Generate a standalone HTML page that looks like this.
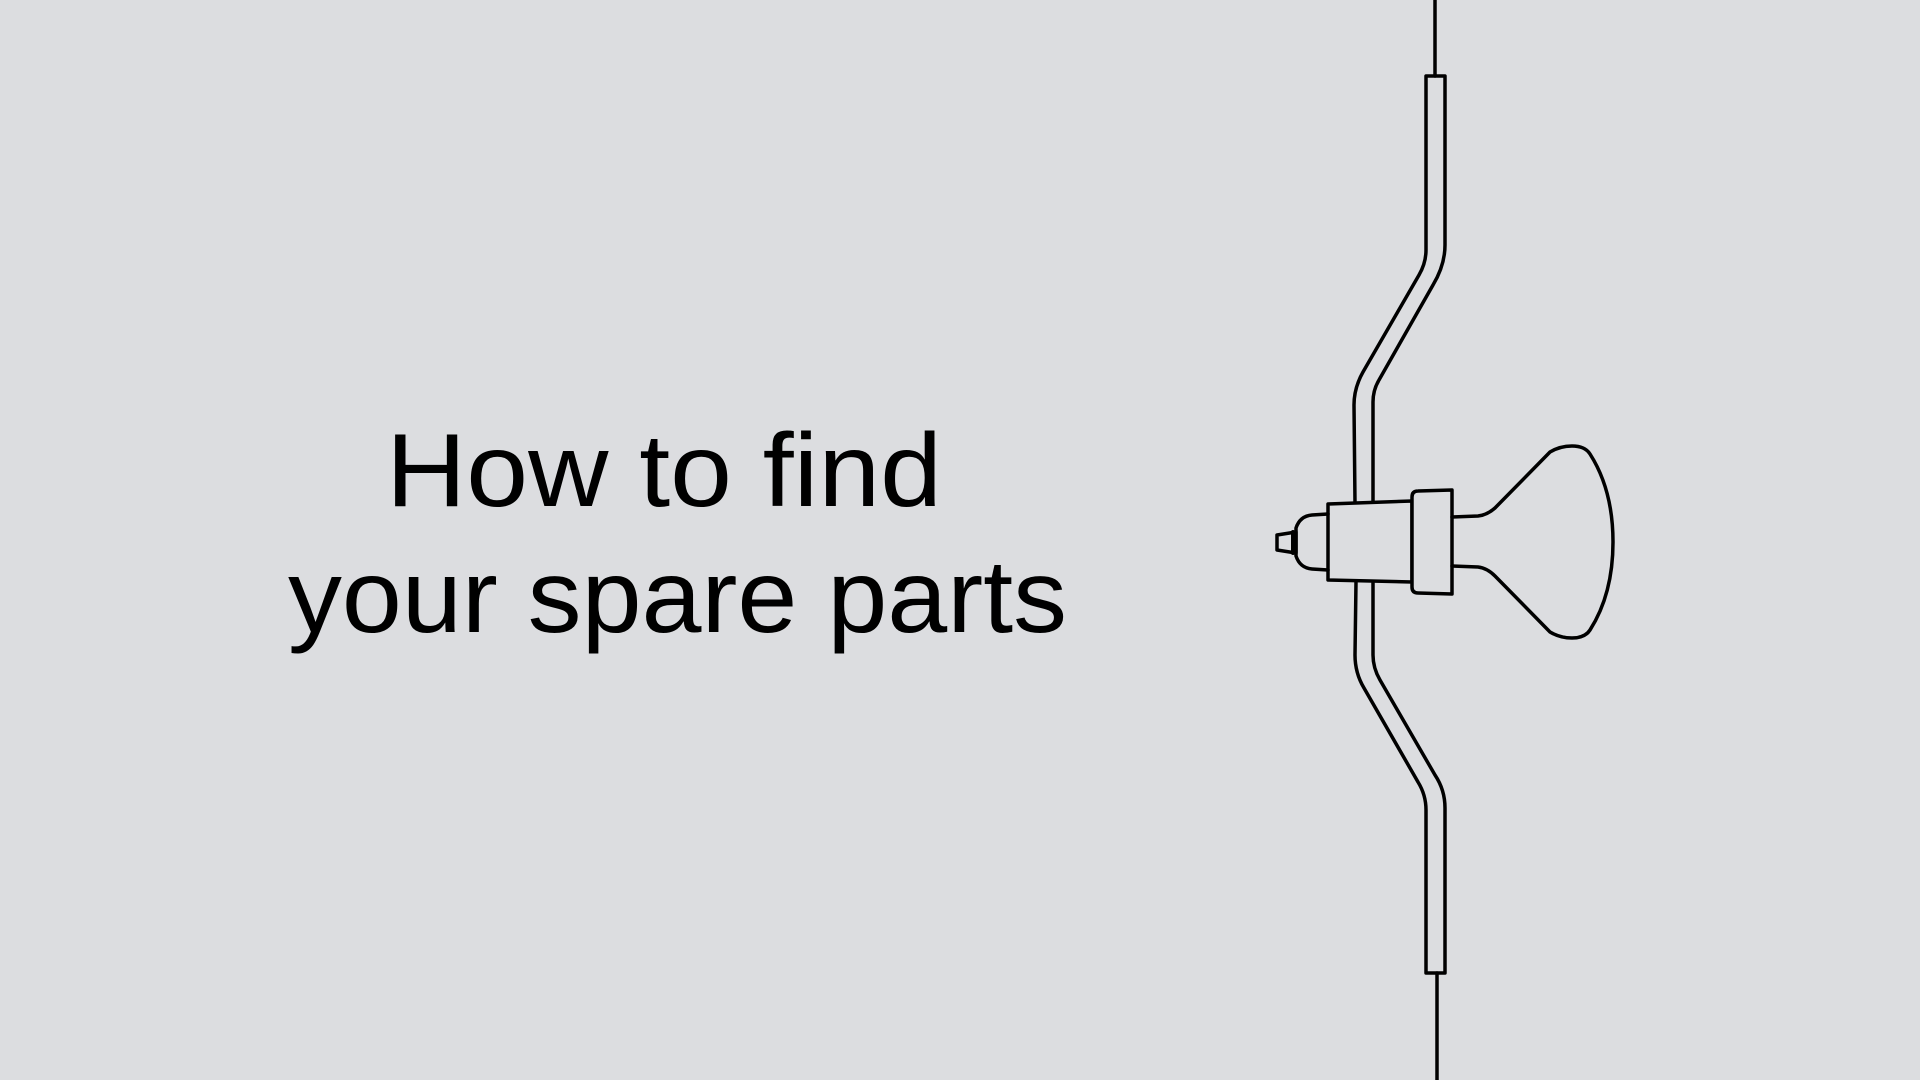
<!DOCTYPE html>
<html><head><meta charset="utf-8"><style>
html,body{margin:0;padding:0;background:#dcdde0;}
svg{display:block;}
</style></head><body>
<svg width="1920" height="1080" viewBox="0 0 1920 1080" xmlns="http://www.w3.org/2000/svg">
<rect width="1920" height="1080" fill="#dcdde0"/>
<g font-family="Liberation Sans, Arial, sans-serif" font-size="104" fill="#000">
<text x="386" y="506" textLength="556" lengthAdjust="spacingAndGlyphs">How to find</text>
<text x="288" y="632" textLength="779" lengthAdjust="spacingAndGlyphs">your spare parts</text>
</g>
<g fill="none" stroke="#000" stroke-width="3.5" stroke-linejoin="round" stroke-linecap="round">
<line x1="1435" y1="0" x2="1435" y2="76"/>
<path d="M1373 503 L1373 402 Q1373 390 1379 380 L1433 285 Q1445 265 1445 245 L1445 76 L1426 76 L1426 250 Q1426 263 1419 275 L1363 372 Q1354 388 1354 405 L1355 503"/>
<path d="M1373 582 L1373 655 Q1373 668 1380 680 L1435 775 Q1445 790 1445 808 L1445 973 L1426 973 L1426 810 Q1426 795 1418 782 L1364 688 Q1355 673 1355 655 L1356 582"/>
<line x1="1437" y1="973" x2="1437" y2="1080"/>
<path d="M1328 504 L1412 501 L1412 582 L1328 580 Z" fill="#dcdde0"/>
<path d="M1418 491 L1452 490 L1452 594 L1418 593 Q1412 593 1412 587 L1412 497 Q1412 491 1418 491 Z" fill="#dcdde0"/>
<path d="M1328 514 L1312 515 Q1300 516 1296 528 L1296 556 Q1300 568 1312 569 L1328 570"/>
<path d="M1296 532 L1277 535 L1277 550 L1296 553 Z"/>
<line x1="1293" y1="532" x2="1293" y2="553" stroke-width="4"/>
<path d="M1452 517 L1478 516 Q1487 515 1495 508 L1550 452 Q1560 446 1572 446 Q1585 446 1590 454 Q1613 490 1613 542 Q1613 594 1590 630 Q1585 638 1572 638 Q1560 638 1550 632 L1495 576 Q1487 568 1478 567 L1452 566"/>
</g>
</svg>
</body></html>
